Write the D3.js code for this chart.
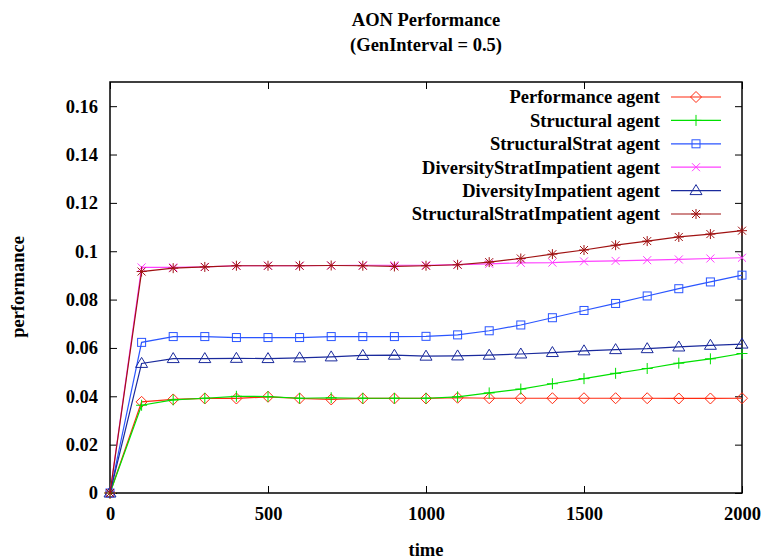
<!DOCTYPE html>
<html>
<head>
<meta charset="utf-8">
<script src="https://cdn.jsdelivr.net/npm/d3@7"></script>
<style>
  body { margin: 0; background: #fff; }
</style>
</head>
<body>
<div id="chart"></div>
<script>
const times = [0, 100, 200, 300, 400, 500, 600, 700, 800, 900, 1000, 1100, 1200, 1300, 1400, 1500, 1600, 1700, 1800, 1900, 2000];

const performanceAgent = [0, 0.0377, 0.0387, 0.0391, 0.0391, 0.0398, 0.0391, 0.0387, 0.0391, 0.0391, 0.0391, 0.0394, 0.0392, 0.0392, 0.0392, 0.0392, 0.0392, 0.0392, 0.0391, 0.0391, 0.0392];
const structuralAgent = [0, 0.0363, 0.0385, 0.0392, 0.0400, 0.0399, 0.0392, 0.0394, 0.0392, 0.0392, 0.0392, 0.0398, 0.0414, 0.0430, 0.0452, 0.0473, 0.0495, 0.0515, 0.0537, 0.0555, 0.0577];
const structuralStratAgent = [0, 0.0623, 0.0647, 0.0647, 0.0643, 0.0643, 0.0643, 0.0647, 0.0647, 0.0647, 0.0648, 0.0654, 0.0671, 0.0695, 0.0725, 0.0755, 0.0784, 0.0815, 0.0845, 0.0873, 0.0901];
const diversityStratImpatient = [0, 0.0933, 0.0933, 0.0935, 0.0940, 0.0940, 0.0940, 0.0941, 0.0942, 0.0942, 0.0942, 0.0945, 0.0948, 0.0952, 0.0953, 0.0958, 0.0960, 0.0963, 0.0966, 0.0970, 0.0973];
const diversityImpatient = [0, 0.0536, 0.0556, 0.0556, 0.0557, 0.0556, 0.0559, 0.0563, 0.0569, 0.0570, 0.0566, 0.0567, 0.0570, 0.0575, 0.0581, 0.0588, 0.0593, 0.0597, 0.0604, 0.0611, 0.0616];
const structuralStratImpatient = [0, 0.0916, 0.0930, 0.0935, 0.0940, 0.0940, 0.0940, 0.0941, 0.0940, 0.0937, 0.0940, 0.0944, 0.0955, 0.0970, 0.0988, 0.1005, 0.1025, 0.1042, 0.1059, 0.1071, 0.1085];

const seriesNames = ['Performance agent', 'Structural agent', 'StructuralStrat agent', 'DiversityStratImpatient agent', 'DiversityImpatient agent', 'StructuralStratImpatient agent'];
const seriesValues = [performanceAgent, structuralAgent, structuralStratAgent, diversityStratImpatient, diversityImpatient, structuralStratImpatient];
const seriesColors = ['#ff2a10', '#00e000', '#2a55ff', '#ff40ff', '#1a2a9c', '#a01212'];
const seriesMarks = ['diamond', 'plus', 'square', 'cross', 'triangle', 'star'];

const xTicks = [0, 500, 1000, 1500, 2000];
const yTicks = [0, 0.02, 0.04, 0.06, 0.08, 0.1, 0.12, 0.14, 0.16];

const width = 764, height = 560;
const margin = { top: 82, right: 22, bottom: 67, left: 110 };
const fontSize = '18.5px';

const svg = d3.select('#chart').append('svg').attr('width', width).attr('height', height);

const x = d3.scaleLinear().domain([0, 2000]).range([margin.left, width - margin.right]);
const y = d3.scaleLinear().domain([0, 0.17]).range([height - margin.bottom, margin.top]);

const tickLen = 7;

// axes, gnuplot style: ticks pointing inward, mirrored
svg.append('g').attr('transform', `translate(0,${y(0)})`)
  .call(d3.axisBottom(x).tickValues(xTicks).tickSize(-tickLen).tickPadding(14).tickFormat(d3.format('d')));
svg.append('g').attr('transform', `translate(0,${margin.top})`)
  .call(d3.axisTop(x).tickValues(xTicks).tickSize(-tickLen).tickFormat(''));
svg.append('g').attr('transform', `translate(${margin.left},0)`)
  .call(d3.axisLeft(y).tickValues(yTicks).tickSize(-tickLen).tickPadding(12).tickFormat(d => d === 0 ? '0' : d3.format('.2~f')(d)));
svg.append('g').attr('transform', `translate(${width - margin.right},0)`)
  .call(d3.axisRight(y).tickValues(yTicks).tickSize(-tickLen).tickFormat(''));

svg.selectAll('.domain').remove();
svg.selectAll('.tick line').attr('stroke', '#000').attr('stroke-width', 1);
svg.selectAll('.tick text').attr('fill', '#000');

svg.append('rect')
  .attr('x', margin.left).attr('y', margin.top)
  .attr('width', width - margin.left - margin.right)
  .attr('height', height - margin.top - margin.bottom)
  .attr('fill', 'none').attr('stroke', '#000').attr('stroke-width', 1.5);

// title and axis labels
svg.append('text').attr('x', 426).attr('y', 26).attr('text-anchor', 'middle').text('AON Performance');
svg.append('text').attr('x', 426).attr('y', 51).attr('text-anchor', 'middle').text('(GenInterval = 0.5)');
svg.append('text').attr('x', 426).attr('y', 556).attr('text-anchor', 'middle').text('time');
svg.append('text').attr('transform', 'translate(24,287) rotate(-90)').attr('text-anchor', 'middle').text('performance');

function drawMark(g, type, cx, cy, color) {
  const s = 5.5;
  if (type === 'diamond') {
    g.append('path').attr('d', `M${cx},${cy - s}L${cx + s},${cy}L${cx},${cy + s}L${cx - s},${cy}Z`).attr('fill', 'none').attr('stroke', color);
  } else if (type === 'plus') {
    g.append('path').attr('d', `M${cx - s},${cy}H${cx + s}M${cx},${cy - s}V${cy + s}`).attr('stroke', color);
  } else if (type === 'square') {
    g.append('rect').attr('x', cx - 4).attr('y', cy - 4).attr('width', 8).attr('height', 8).attr('fill', 'none').attr('stroke', color);
  } else if (type === 'cross') {
    g.append('path').attr('d', `M${cx - 4},${cy - 4}L${cx + 4},${cy + 4}M${cx - 4},${cy + 4}L${cx + 4},${cy - 4}`).attr('stroke', color);
  } else if (type === 'triangle') {
    g.append('path').attr('d', `M${cx},${cy - 6}L${cx + 6},${cy + 4}L${cx - 6},${cy + 4}Z`).attr('fill', 'none').attr('stroke', color);
  } else if (type === 'star') {
    g.append('path').attr('d', `M${cx - 5},${cy}H${cx + 5}M${cx},${cy - 5}V${cy + 5}M${cx - 4},${cy - 4}L${cx + 4},${cy + 4}M${cx - 4},${cy + 4}L${cx + 4},${cy - 4}`).attr('stroke', color);
  }
}

const line = d3.line().x((d, i) => x(times[i])).y(d => y(d));

seriesValues.forEach((vals, k) => {
  const g = svg.append('g');
  g.append('path').datum(vals).attr('d', line).attr('fill', 'none').attr('stroke', seriesColors[k]).attr('stroke-width', 1.2);
  vals.forEach((v, i) => drawMark(g, seriesMarks[k], x(times[i]), y(v), seriesColors[k]));
});

// legend
const legend = svg.append('g');
seriesNames.forEach((name, k) => {
  const ly = 97 + k * 23.4;
  legend.append('text').attr('x', 660).attr('y', ly).attr('dy', '0.35em').attr('text-anchor', 'end').text(name);
  legend.append('line').attr('x1', 671).attr('x2', 721).attr('y1', ly).attr('y2', ly).attr('stroke', seriesColors[k]).attr('stroke-width', 1.2);
  drawMark(legend, seriesMarks[k], 696, ly, seriesColors[k]);
});

svg.selectAll('text')
  .style('font-family', 'Liberation Serif')
  .style('font-weight', 'bold')
  .style('font-size', fontSize);
</script>
</body>
</html>
